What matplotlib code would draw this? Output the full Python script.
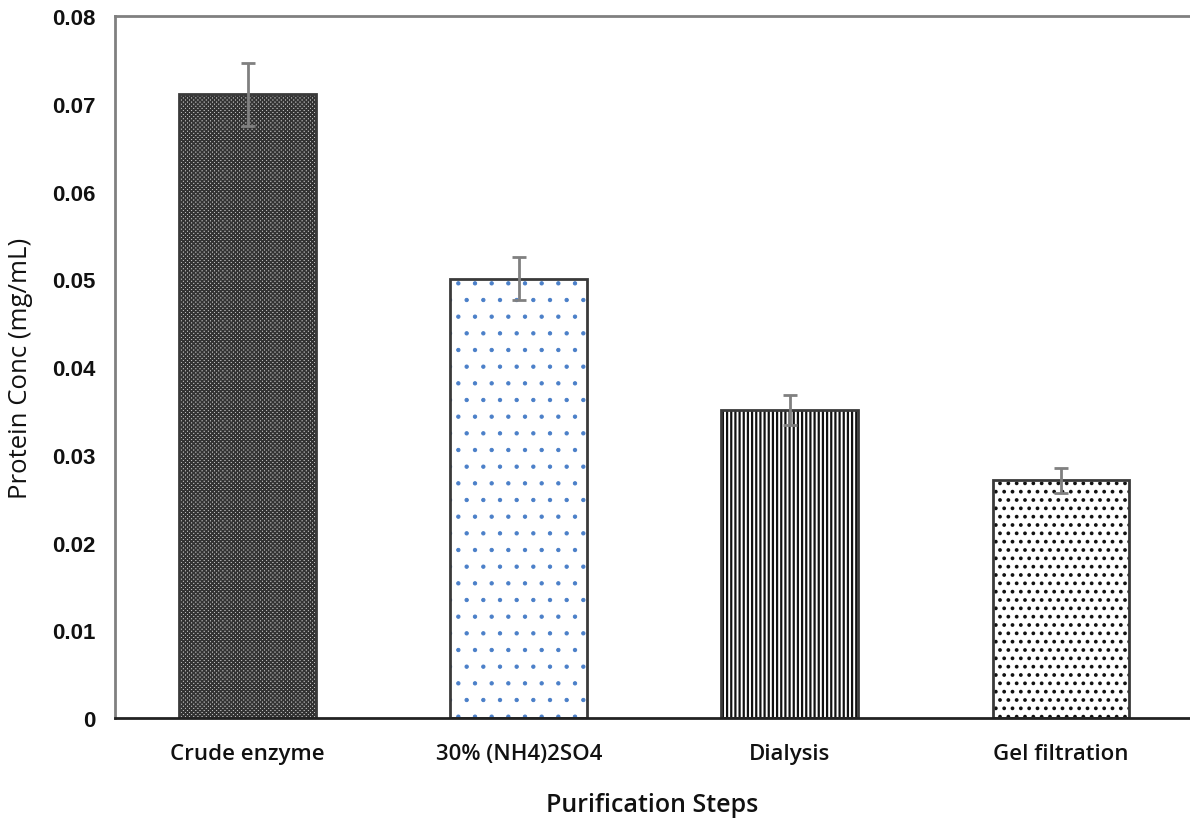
import matplotlib
matplotlib.use("Agg")
import matplotlib.pyplot as plt

steps = ["Crude enzyme", "30% (NH4)2SO4", "Dialysis", "Gel filtration"]
protein_conc = [0.0711, 0.0501, 0.0351, 0.0271]
conc_err = [0.0036, 0.0025, 0.0017, 0.0014]
y_ticks = [0, 0.01, 0.02, 0.03, 0.04, 0.05, 0.06, 0.07, 0.08]

hatches = ["xxxxxxxx", ".", "||||", ".."]
hatch_colors = ["#333333", "#4a7fc8", "#111111", "#111111"]
hatch_widths = [1.2, 0.7, 1.6, 1.5]
face_colors = ["#c4c4c4", "white", "white", "white"]

fig = plt.figure(figsize=(11.9, 8.2), dpi=100)
ax = fig.add_axes([0.0966, 0.1232, 0.9034, 0.8558])

x = list(range(len(steps)))
for i in x:
    with plt.rc_context({"hatch.color": hatch_colors[i], "hatch.linewidth": hatch_widths[i]}):
        bar = ax.bar(i, protein_conc[i], width=0.505, color=face_colors[i],
                     edgecolor="#3a3a3a", linewidth=2, hatch=hatches[i], zorder=2)
    for p in bar:
        p.set_edgecolor("#3a3a3a")
        p._hatch_color = matplotlib.colors.to_rgba(hatch_colors[i])

ax.errorbar(x, protein_conc, yerr=conc_err, fmt="none", ecolor="#808080",
            elinewidth=2, capsize=5, capthick=2, zorder=3)

ax.set_xlim(-0.49, 3.476)
ax.set_ylim(0, 0.08)
ax.set_yticks(y_ticks)
ax.set_yticklabels(["0"] + [f"{v:.2f}" for v in y_ticks[1:]],
                   fontfamily="Liberation Sans", fontweight="bold", fontsize=16)
ax.set_xticks(x)
ax.set_xticklabels(steps, fontfamily="Open Sans", fontweight="semibold", fontsize=16)
ax.tick_params(axis="both", length=0, colors="#111111")
ax.tick_params(axis="y", pad=14)
ax.tick_params(axis="x", pad=18)

ax.spines["right"].set_visible(False)
ax.spines["left"].set_color("#808080")
ax.spines["top"].set_color("#808080")
ax.spines["left"].set_linewidth(2)
ax.spines["top"].set_linewidth(2)
ax.spines["bottom"].set_color("#222222")
ax.spines["bottom"].set_linewidth(2)

ax.set_ylabel("Protein Conc (mg/mL)", fontfamily="Open Sans", fontsize=18.5,
              color="#111111", labelpad=14)
ax.set_xlabel("Purification Steps", fontfamily="Open Sans", fontweight="semibold",
              fontsize=18, color="#111111", labelpad=20)

fig.savefig("out.png", dpi=100)
